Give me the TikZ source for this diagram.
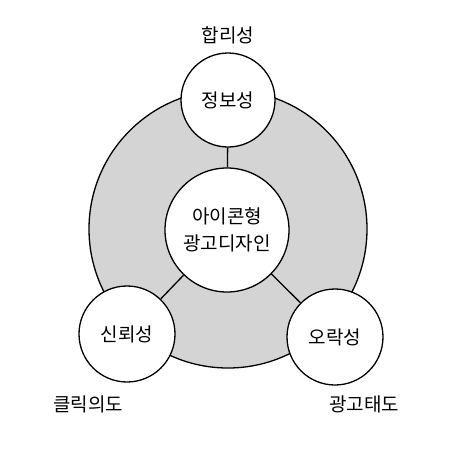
\documentclass[tikz,border=0pt]{standalone}
\usepackage{fontspec}
\setmainfont{Noto Sans CJK KR}
\definecolor{ringgray}{HTML}{D4D4D4}
\begin{document}
\begin{tikzpicture}[x=1pt,y=-1pt,
  lw/.style={line width=1.3pt},
  bubble/.style={circle,draw,lw,fill=white,inner sep=0pt,font=\fontsize{19}{27}\selectfont,align=center},
  lbl/.style={font=\fontsize{19}{23}\selectfont,inner sep=0pt}]
\useasboundingbox (0,0) rectangle (450,450);
\fill[white] (0,0) rectangle (450,450);
\node[circle,draw,lw,fill=ringgray,minimum size=278pt,inner sep=0pt] (ring) at (228,229) {};
\node[bubble,minimum size=124pt] (c) at (227,230) {아이콘형\\광고디자인};
\node[bubble,minimum size=94pt] (t) at (228,100) {정보성};
\node[bubble,minimum size=96pt] (l) at (127,334) {신뢰성};
\node[bubble,minimum size=96pt] (r) at (335,337) {오락성};
\draw[lw] (t) -- (c);
\draw[lw] (l) -- (c);
\draw[lw] (r) -- (c);
\node[lbl] (lt) at (228,35) {합리성};
\node[lbl] (ll) at (88,404) {클릭의도};
\node[lbl] (lr) at (364,404) {광고태도};
\end{tikzpicture}
\end{document}
